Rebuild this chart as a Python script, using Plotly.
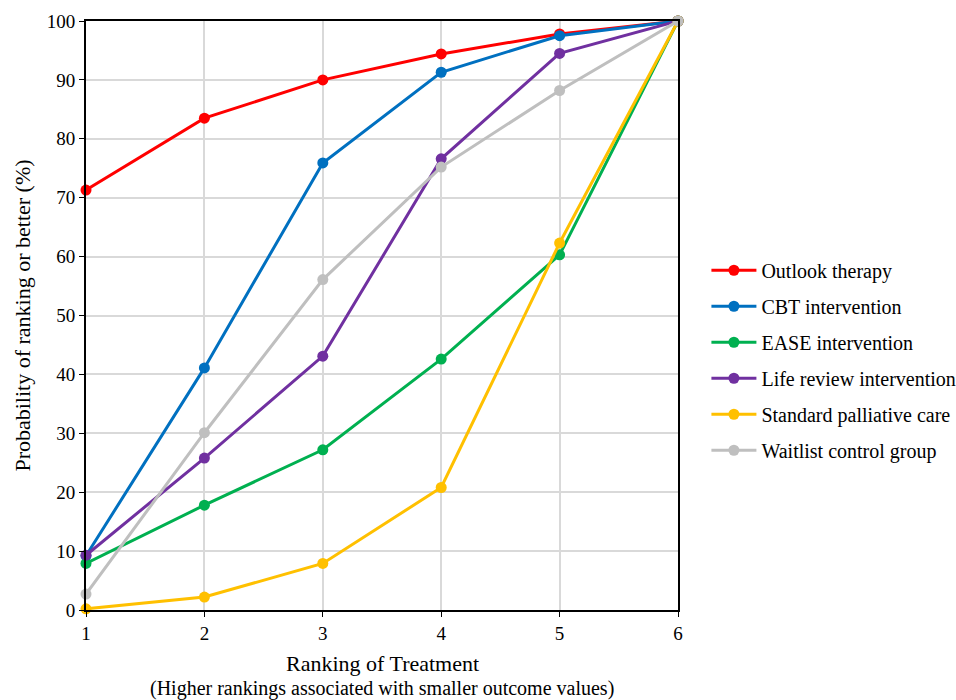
import plotly.graph_objects as go

ranks = [1, 2, 3, 4, 5, 6]

treatments = [
    "Outlook therapy",
    "CBT intervention",
    "EASE intervention",
    "Life review intervention",
    "Standard palliative care",
    "Waitlist control group",
]

outlook = [71.3, 83.5, 90.0, 94.4, 97.8, 100.0]
cbt = [9.2, 41.1, 75.9, 91.3, 97.5, 100.0]
ease = [7.9, 17.8, 27.2, 42.6, 60.3, 100.0]
life_review = [9.3, 25.8, 43.1, 76.6, 94.5, 100.0]
standard_care = [0.2, 2.2, 7.9, 20.8, 62.3, 100.0]
waitlist = [2.7, 30.1, 56.1, 75.2, 88.2, 100.0]

series = [outlook, cbt, ease, life_review, standard_care, waitlist]
colors = ["#ff0000", "#0070c0", "#00b050", "#7030a0", "#ffc000", "#bfbfbf"]

y_ticks = list(range(0, 101, 10))

x_title = "Ranking of Treatment"
x_subtitle = "(Higher rankings associated with smaller outcome values)"
y_title = "Probability of ranking or better (%)"

fig = go.Figure()
for i, (name, vals, col) in enumerate(zip(treatments, series, colors)):
    fig.add_trace(go.Scatter(
        x=ranks, y=vals, name=name, mode="lines+markers",
        line=dict(color=col, width=3),
        marker=dict(color=col, size=11),
        legendgroup=f"g{i}",
        cliponaxis=False,
    ))

font_family = "Liberation Serif, Times New Roman, serif"

fig.update_layout(
    width=956, height=700,
    margin=dict(l=86, r=278, t=21, b=90, autoexpand=False),
    plot_bgcolor="white", paper_bgcolor="white",
    font=dict(family=font_family, size=19, color="black"),
    showlegend=True,
    legend=dict(
        x=1.048, y=0.424, xanchor="left", yanchor="middle",
        font=dict(family=font_family, size=20, color="black"),
        tracegroupgap=7, itemwidth=45,
        bgcolor="rgba(0,0,0,0)",
    ),
    xaxis=dict(
        range=[1, 6], tickvals=ranks, ticks="outside", ticklen=5,
        tickcolor="black", showline=True, linecolor="black", linewidth=2,
        mirror=True, showgrid=True, gridcolor="#d9d9d9", gridwidth=1.5,
        zeroline=False,
        tickfont=dict(family=font_family, size=19),
    ),
    yaxis=dict(
        range=[0, 100], tickvals=y_ticks, ticks="outside", ticklen=5,
        tickcolor="black", showline=True, linecolor="black", linewidth=2,
        mirror=True, showgrid=True, gridcolor="#d9d9d9", gridwidth=1.5,
        zeroline=False,
        tickfont=dict(family=font_family, size=19),
        title=dict(text=y_title, font=dict(family=font_family, size=22), standoff=10),
    ),
    annotations=[
        dict(text=x_title, xref="paper", yref="paper", x=0.5, y=0,
             xanchor="center", yanchor="middle", yshift=-53, showarrow=False,
             font=dict(family=font_family, size=22, color="black")),
        dict(text=x_subtitle, xref="paper", yref="paper", x=0.5, y=0,
             xanchor="center", yanchor="middle", yshift=-78, showarrow=False,
             font=dict(family=font_family, size=20, color="black")),
    ],
)

fig.write_html("out.html")
